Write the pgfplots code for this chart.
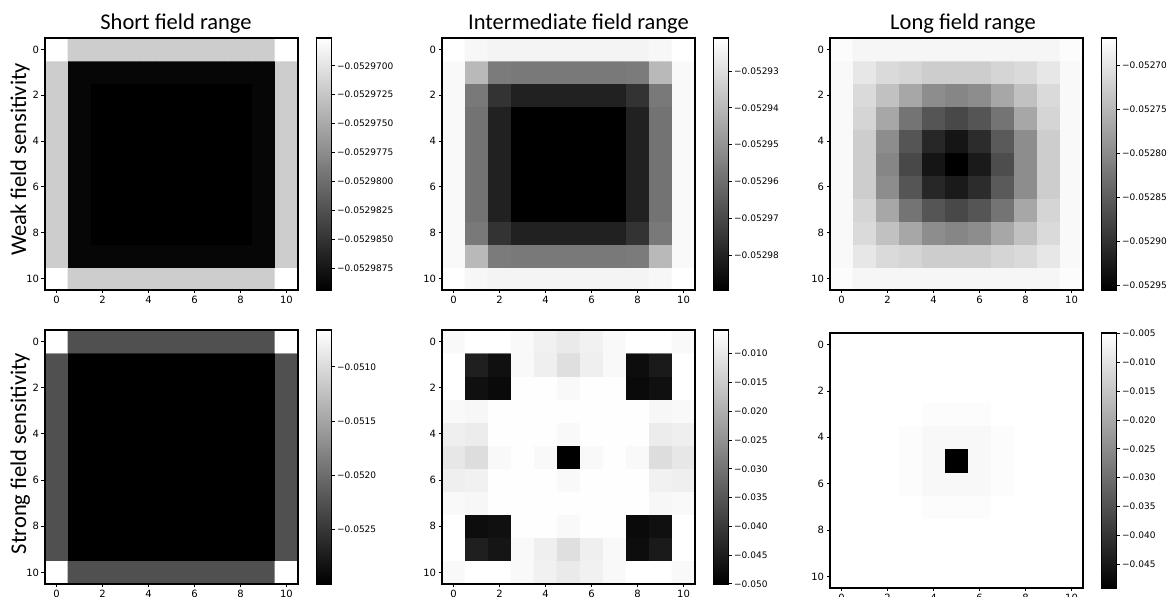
\documentclass[border=0pt]{standalone}
\usepackage{fontspec}
\setmainfont{Carlito}
\newfontfamily\tickfamily{DejaVu Sans}
\usepackage{pgfplots}
\pgfplotsset{compat=1.18}
\newcommand\tickfont{\tickfamily\fontsize{5}{6}\selectfont}
\newcommand\cbfont{\tickfamily\fontsize{4.5}{5.5}\selectfont}
\newcommand\titlefont{\fontsize{11.25}{13}\selectfont}
\pgfplotsset{
 hm/.style={
  scale only axis, width=126.5pt, height=126pt,
  xmin=-0.5,xmax=10.5,ymin=-0.5,ymax=10.5,
  xtick={0,2,4,6,8,10}, xticklabels={0,2,4,6,8,10},
  ytick={0,2,4,6,8,10}, yticklabels={10,8,6,4,2,0},
  tick pos=left, tick align=outside, major tick length=1.75pt,
  every tick/.style={black, line width=0.4pt},
  ticklabel style={font=\tickfont, inner sep=1pt},
  axis line style={line width=0.8pt},
  colormap/blackwhite,
  axis on top,
  title style={font=\titlefont, at={(0.5,1)}, anchor=base, yshift=-2pt},
  colorbar,
  colorbar style={scale only axis, width=7.5pt, at={(parent axis.north east)}, anchor=north west, xshift=0.75pt,
    ytick pos=right, yticklabel pos=right, tick align=outside, major tick length=1.6pt,
    scaled y ticks=false, yticklabel style={font=\cbfont, inner sep=1pt},
    axis line style={line width=0.6pt}, every tick/.style={black,line width=0.4pt}},
 },
 hmplot/.style={matrix plot*, mesh/cols=11, point meta=explicit},
}
\begin{document}
\begin{tikzpicture}
\useasboundingbox (0,0) rectangle (584pt,298.5pt);
% ---------- Short field range, weak ----------
\begin{axis}[hm, at={(22.5pt,153.5pt)}, anchor=south west, title={Short field range}, title style={xshift=2.25pt},
  point meta min=-0.0529894, point meta max=-0.0529676,
  colorbar style={ytick={-0.0529875,-0.0529850,-0.0529825,-0.0529800,-0.0529775,-0.0529750,-0.0529725,-0.0529700},
  yticklabels={−0.0529875,−0.0529850,−0.0529825,−0.0529800,−0.0529775,−0.0529750,−0.0529725,−0.0529700}}]
\addplot[hmplot] table[row sep=\\, x expr={mod(\coordindex,11)}, y expr={floor(\coordindex/11)}, meta=c] {
c\\
-0.0529676\\ -0.0529720\\ -0.0529720\\ -0.0529720\\ -0.0529720\\ -0.0529720\\ -0.0529720\\ -0.0529720\\ -0.0529720\\ -0.0529720\\ -0.0529676\\
-0.0529720\\ -0.0529889\\ -0.0529889\\ -0.0529889\\ -0.0529889\\ -0.0529889\\ -0.0529889\\ -0.0529889\\ -0.0529889\\ -0.0529889\\ -0.0529720\\
-0.0529720\\ -0.0529889\\ -0.0529894\\ -0.0529894\\ -0.0529894\\ -0.0529894\\ -0.0529894\\ -0.0529894\\ -0.0529894\\ -0.0529889\\ -0.0529720\\
-0.0529720\\ -0.0529889\\ -0.0529894\\ -0.0529894\\ -0.0529894\\ -0.0529894\\ -0.0529894\\ -0.0529894\\ -0.0529894\\ -0.0529889\\ -0.0529720\\
-0.0529720\\ -0.0529889\\ -0.0529894\\ -0.0529894\\ -0.0529894\\ -0.0529894\\ -0.0529894\\ -0.0529894\\ -0.0529894\\ -0.0529889\\ -0.0529720\\
-0.0529720\\ -0.0529889\\ -0.0529894\\ -0.0529894\\ -0.0529894\\ -0.0529894\\ -0.0529894\\ -0.0529894\\ -0.0529894\\ -0.0529889\\ -0.0529720\\
-0.0529720\\ -0.0529889\\ -0.0529894\\ -0.0529894\\ -0.0529894\\ -0.0529894\\ -0.0529894\\ -0.0529894\\ -0.0529894\\ -0.0529889\\ -0.0529720\\
-0.0529720\\ -0.0529889\\ -0.0529894\\ -0.0529894\\ -0.0529894\\ -0.0529894\\ -0.0529894\\ -0.0529894\\ -0.0529894\\ -0.0529889\\ -0.0529720\\
-0.0529720\\ -0.0529889\\ -0.0529894\\ -0.0529894\\ -0.0529894\\ -0.0529894\\ -0.0529894\\ -0.0529894\\ -0.0529894\\ -0.0529889\\ -0.0529720\\
-0.0529720\\ -0.0529889\\ -0.0529889\\ -0.0529889\\ -0.0529889\\ -0.0529889\\ -0.0529889\\ -0.0529889\\ -0.0529889\\ -0.0529889\\ -0.0529720\\
-0.0529676\\ -0.0529720\\ -0.0529720\\ -0.0529720\\ -0.0529720\\ -0.0529720\\ -0.0529720\\ -0.0529720\\ -0.0529720\\ -0.0529720\\ -0.0529676\\
};
\end{axis}
% ---------- Intermediate field range, weak ----------
\begin{axis}[hm, at={(221pt,153.5pt)}, anchor=south west, title={Intermediate field range}, title style={xshift=5pt},
  point meta min=-0.0529895, point meta max=-0.0529210,
  colorbar style={ytick={-0.05298,-0.05297,-0.05296,-0.05295,-0.05294,-0.05293},
  yticklabels={−0.05298,−0.05297,−0.05296,−0.05295,−0.05294,−0.05293}}]
\addplot[hmplot] table[row sep=\\, x expr={mod(\coordindex,11)}, y expr={floor(\coordindex/11)}, meta=c] {
c\\
-0.0529210\\ -0.0529237\\ -0.0529244\\ -0.0529244\\ -0.0529244\\ -0.0529244\\ -0.0529244\\ -0.0529244\\ -0.0529244\\ -0.0529237\\ -0.0529210\\
-0.0529231\\ -0.0529402\\ -0.0529566\\ -0.0529573\\ -0.0529573\\ -0.0529573\\ -0.0529573\\ -0.0529573\\ -0.0529566\\ -0.0529402\\ -0.0529231\\
-0.0529231\\ -0.0529573\\ -0.0529758\\ -0.0529806\\ -0.0529806\\ -0.0529806\\ -0.0529806\\ -0.0529806\\ -0.0529758\\ -0.0529573\\ -0.0529231\\
-0.0529231\\ -0.0529587\\ -0.0529806\\ -0.0529895\\ -0.0529895\\ -0.0529895\\ -0.0529895\\ -0.0529895\\ -0.0529806\\ -0.0529587\\ -0.0529231\\
-0.0529231\\ -0.0529587\\ -0.0529806\\ -0.0529895\\ -0.0529895\\ -0.0529895\\ -0.0529895\\ -0.0529895\\ -0.0529806\\ -0.0529587\\ -0.0529231\\
-0.0529231\\ -0.0529587\\ -0.0529806\\ -0.0529895\\ -0.0529895\\ -0.0529895\\ -0.0529895\\ -0.0529895\\ -0.0529806\\ -0.0529587\\ -0.0529231\\
-0.0529231\\ -0.0529587\\ -0.0529806\\ -0.0529895\\ -0.0529895\\ -0.0529895\\ -0.0529895\\ -0.0529895\\ -0.0529806\\ -0.0529587\\ -0.0529231\\
-0.0529231\\ -0.0529587\\ -0.0529806\\ -0.0529895\\ -0.0529895\\ -0.0529895\\ -0.0529895\\ -0.0529895\\ -0.0529806\\ -0.0529587\\ -0.0529231\\
-0.0529231\\ -0.0529573\\ -0.0529758\\ -0.0529806\\ -0.0529806\\ -0.0529806\\ -0.0529806\\ -0.0529806\\ -0.0529758\\ -0.0529573\\ -0.0529231\\
-0.0529231\\ -0.0529402\\ -0.0529566\\ -0.0529573\\ -0.0529573\\ -0.0529573\\ -0.0529573\\ -0.0529573\\ -0.0529566\\ -0.0529402\\ -0.0529231\\
-0.0529210\\ -0.0529237\\ -0.0529244\\ -0.0529244\\ -0.0529244\\ -0.0529244\\ -0.0529244\\ -0.0529244\\ -0.0529244\\ -0.0529237\\ -0.0529210\\
};
\end{axis}
% ---------- Long field range, weak ----------
\begin{axis}[hm, at={(415pt,153.5pt)}, anchor=south west, title={Long field range}, title style={xshift=3.25pt},
  point meta min=-0.0529550, point meta max=-0.0526686,
  colorbar style={ytick={-0.05295,-0.05290,-0.05285,-0.05280,-0.05275,-0.05270},
  yticklabels={−0.05295,−0.05290,−0.05285,−0.05280,−0.05275,−0.05270}}]
\addplot[hmplot] table[row sep=\\, x expr={mod(\coordindex,11)}, y expr={floor(\coordindex/11)}, meta=c] {
c\\
-0.0526743\\ -0.0526801\\ -0.0526801\\ -0.0526801\\ -0.0526801\\ -0.0526801\\ -0.0526801\\ -0.0526801\\ -0.0526801\\ -0.0526801\\ -0.0526743\\
-0.0526772\\ -0.0526972\\ -0.0527116\\ -0.0527173\\ -0.0527259\\ -0.0527259\\ -0.0527259\\ -0.0527173\\ -0.0527116\\ -0.0526972\\ -0.0526772\\
-0.0526772\\ -0.0527116\\ -0.0527402\\ -0.0527688\\ -0.0527975\\ -0.0528061\\ -0.0527975\\ -0.0527688\\ -0.0527402\\ -0.0527116\\ -0.0526772\\
-0.0526772\\ -0.0527173\\ -0.0527688\\ -0.0528261\\ -0.0528605\\ -0.0528748\\ -0.0528605\\ -0.0528261\\ -0.0527688\\ -0.0527173\\ -0.0526772\\
-0.0526772\\ -0.0527259\\ -0.0527975\\ -0.0528605\\ -0.0529120\\ -0.0529264\\ -0.0529063\\ -0.0528548\\ -0.0527975\\ -0.0527259\\ -0.0526772\\
-0.0526772\\ -0.0527259\\ -0.0528061\\ -0.0528748\\ -0.0529321\\ -0.0529550\\ -0.0529264\\ -0.0528691\\ -0.0527975\\ -0.0527259\\ -0.0526772\\
-0.0526772\\ -0.0527259\\ -0.0527975\\ -0.0528605\\ -0.0529120\\ -0.0529321\\ -0.0529063\\ -0.0528548\\ -0.0527975\\ -0.0527259\\ -0.0526772\\
-0.0526772\\ -0.0527173\\ -0.0527688\\ -0.0528261\\ -0.0528605\\ -0.0528748\\ -0.0528605\\ -0.0528261\\ -0.0527688\\ -0.0527173\\ -0.0526772\\
-0.0526772\\ -0.0527116\\ -0.0527402\\ -0.0527688\\ -0.0527975\\ -0.0528061\\ -0.0527975\\ -0.0527688\\ -0.0527402\\ -0.0527116\\ -0.0526772\\
-0.0526772\\ -0.0526972\\ -0.0527116\\ -0.0527173\\ -0.0527259\\ -0.0527259\\ -0.0527259\\ -0.0527173\\ -0.0527116\\ -0.0526972\\ -0.0526772\\
-0.0526743\\ -0.0526801\\ -0.0526801\\ -0.0526801\\ -0.0526801\\ -0.0526801\\ -0.0526801\\ -0.0526801\\ -0.0526801\\ -0.0526801\\ -0.0526743\\
};
\end{axis}
% ---------- Short field range, strong ----------
\begin{axis}[hm, at={(22.5pt,6.5pt)}, anchor=south west, height=127pt,
  point meta min=-0.05300, point meta max=-0.05066,
  colorbar style={ytick={-0.0525,-0.0520,-0.0515,-0.0510},
  yticklabels={−0.0525,−0.0520,−0.0515,−0.0510}}]
\addplot[hmplot] table[row sep=\\, x expr={mod(\coordindex,11)}, y expr={floor(\coordindex/11)}, meta=c] {
c\\
-0.050660\\ -0.052275\\ -0.052275\\ -0.052275\\ -0.052275\\ -0.052275\\ -0.052275\\ -0.052275\\ -0.052275\\ -0.052275\\ -0.050660\\
-0.052275\\ -0.053000\\ -0.053000\\ -0.053000\\ -0.053000\\ -0.053000\\ -0.053000\\ -0.053000\\ -0.053000\\ -0.053000\\ -0.052275\\
-0.052275\\ -0.053000\\ -0.053000\\ -0.053000\\ -0.053000\\ -0.053000\\ -0.053000\\ -0.053000\\ -0.053000\\ -0.053000\\ -0.052275\\
-0.052275\\ -0.053000\\ -0.053000\\ -0.053000\\ -0.053000\\ -0.053000\\ -0.053000\\ -0.053000\\ -0.053000\\ -0.053000\\ -0.052275\\
-0.052275\\ -0.053000\\ -0.053000\\ -0.053000\\ -0.053000\\ -0.053000\\ -0.053000\\ -0.053000\\ -0.053000\\ -0.053000\\ -0.052275\\
-0.052275\\ -0.053000\\ -0.053000\\ -0.053000\\ -0.053000\\ -0.053000\\ -0.053000\\ -0.053000\\ -0.053000\\ -0.053000\\ -0.052275\\
-0.052275\\ -0.053000\\ -0.053000\\ -0.053000\\ -0.053000\\ -0.053000\\ -0.053000\\ -0.053000\\ -0.053000\\ -0.053000\\ -0.052275\\
-0.052275\\ -0.053000\\ -0.053000\\ -0.053000\\ -0.053000\\ -0.053000\\ -0.053000\\ -0.053000\\ -0.053000\\ -0.053000\\ -0.052275\\
-0.052275\\ -0.053000\\ -0.053000\\ -0.053000\\ -0.053000\\ -0.053000\\ -0.053000\\ -0.053000\\ -0.053000\\ -0.053000\\ -0.052275\\
-0.052275\\ -0.053000\\ -0.053000\\ -0.053000\\ -0.053000\\ -0.053000\\ -0.053000\\ -0.053000\\ -0.053000\\ -0.053000\\ -0.052275\\
-0.050660\\ -0.052275\\ -0.052275\\ -0.052275\\ -0.052275\\ -0.052275\\ -0.052275\\ -0.052275\\ -0.052275\\ -0.052275\\ -0.050660\\
};
\end{axis}
% ---------- Intermediate field range, strong ----------
\begin{axis}[hm, at={(221pt,6.5pt)}, anchor=south west, height=127pt,
  point meta min=-0.05002, point meta max=-0.0059,
  colorbar style={ytick={-0.050,-0.045,-0.040,-0.035,-0.030,-0.025,-0.020,-0.015,-0.010},
  yticklabels={−0.050,−0.045,−0.040,−0.035,−0.030,−0.025,−0.020,−0.015,−0.010}}]
\addplot[hmplot] table[row sep=\\, x expr={mod(\coordindex,11)}, y expr={floor(\coordindex/11)}, meta=c] {
c\\
-0.00722\\ -0.00590\\ -0.00590\\ -0.00722\\ -0.00855\\ -0.00987\\ -0.00855\\ -0.00722\\ -0.00590\\ -0.00590\\ -0.00722\\
-0.00590\\ -0.04471\\ -0.04647\\ -0.00722\\ -0.00899\\ -0.01163\\ -0.00899\\ -0.00722\\ -0.04780\\ -0.04559\\ -0.00590\\
-0.00590\\ -0.04780\\ -0.04735\\ -0.00634\\ -0.00634\\ -0.00722\\ -0.00634\\ -0.00634\\ -0.04824\\ -0.04735\\ -0.00590\\
-0.00722\\ -0.00766\\ -0.00634\\ -0.00634\\ -0.00634\\ -0.00634\\ -0.00634\\ -0.00634\\ -0.00634\\ -0.00766\\ -0.00722\\
-0.00899\\ -0.00855\\ -0.00634\\ -0.00634\\ -0.00634\\ -0.00722\\ -0.00634\\ -0.00634\\ -0.00634\\ -0.00855\\ -0.00899\\
-0.01031\\ -0.01207\\ -0.00722\\ -0.00634\\ -0.00722\\ -0.05000\\ -0.00722\\ -0.00634\\ -0.00722\\ -0.01207\\ -0.01031\\
-0.00899\\ -0.00943\\ -0.00634\\ -0.00634\\ -0.00634\\ -0.00722\\ -0.00634\\ -0.00634\\ -0.00634\\ -0.00943\\ -0.00899\\
-0.00722\\ -0.00766\\ -0.00634\\ -0.00634\\ -0.00634\\ -0.00634\\ -0.00634\\ -0.00634\\ -0.00634\\ -0.00766\\ -0.00722\\
-0.00590\\ -0.04735\\ -0.04824\\ -0.00634\\ -0.00634\\ -0.00722\\ -0.00634\\ -0.00634\\ -0.04824\\ -0.04735\\ -0.00590\\
-0.00590\\ -0.04471\\ -0.04735\\ -0.00722\\ -0.00899\\ -0.01163\\ -0.00899\\ -0.00722\\ -0.04780\\ -0.04559\\ -0.00590\\
-0.00722\\ -0.00590\\ -0.00590\\ -0.00722\\ -0.00855\\ -0.00987\\ -0.00855\\ -0.00722\\ -0.00590\\ -0.00590\\ -0.00722\\
};
\end{axis}
% ---------- Long field range, strong ----------
\begin{axis}[hm, at={(415pt,4.5pt)}, anchor=south west, height=127.5pt,
  point meta min=-0.04916, point meta max=-0.0049,
  colorbar style={ytick={-0.045,-0.040,-0.035,-0.030,-0.025,-0.020,-0.015,-0.010,-0.005},
  yticklabels={−0.045,−0.040,−0.035,−0.030,−0.025,−0.020,−0.015,−0.010,−0.005}}]
\addplot[hmplot] table[row sep=\\, x expr={mod(\coordindex,11)}, y expr={floor(\coordindex/11)}, meta=c] {
c\\
-0.00490\\ -0.00490\\ -0.00490\\ -0.00490\\ -0.00490\\ -0.00490\\ -0.00490\\ -0.00490\\ -0.00490\\ -0.00490\\ -0.00490\\
-0.00490\\ -0.00490\\ -0.00490\\ -0.00490\\ -0.00490\\ -0.00490\\ -0.00490\\ -0.00490\\ -0.00490\\ -0.00490\\ -0.00490\\
-0.00490\\ -0.00490\\ -0.00490\\ -0.00490\\ -0.00490\\ -0.00490\\ -0.00490\\ -0.00490\\ -0.00490\\ -0.00490\\ -0.00490\\
-0.00490\\ -0.00490\\ -0.00490\\ -0.00490\\ -0.00579\\ -0.00579\\ -0.00579\\ -0.00490\\ -0.00490\\ -0.00490\\ -0.00490\\
-0.00490\\ -0.00490\\ -0.00490\\ -0.00579\\ -0.00645\\ -0.00645\\ -0.00645\\ -0.00579\\ -0.00490\\ -0.00490\\ -0.00490\\
-0.00490\\ -0.00490\\ -0.00490\\ -0.00579\\ -0.00645\\ -0.04916\\ -0.00645\\ -0.00579\\ -0.00490\\ -0.00490\\ -0.00490\\
-0.00490\\ -0.00490\\ -0.00490\\ -0.00579\\ -0.00645\\ -0.00645\\ -0.00645\\ -0.00579\\ -0.00490\\ -0.00490\\ -0.00490\\
-0.00490\\ -0.00490\\ -0.00490\\ -0.00490\\ -0.00579\\ -0.00579\\ -0.00579\\ -0.00490\\ -0.00490\\ -0.00490\\ -0.00490\\
-0.00490\\ -0.00490\\ -0.00490\\ -0.00490\\ -0.00490\\ -0.00490\\ -0.00490\\ -0.00490\\ -0.00490\\ -0.00490\\ -0.00490\\
-0.00490\\ -0.00490\\ -0.00490\\ -0.00490\\ -0.00490\\ -0.00490\\ -0.00490\\ -0.00490\\ -0.00490\\ -0.00490\\ -0.00490\\
-0.00490\\ -0.00490\\ -0.00490\\ -0.00490\\ -0.00490\\ -0.00490\\ -0.00490\\ -0.00490\\ -0.00490\\ -0.00490\\ -0.00490\\
};
\end{axis}
\node[rotate=90, anchor=base, font=\titlefont] at (13pt,218.75pt) {Weak field sensitivity};
\node[rotate=90, anchor=base, font=\titlefont] at (13pt,71.75pt) {Strong field sensitivity};
\end{tikzpicture}
\end{document}
